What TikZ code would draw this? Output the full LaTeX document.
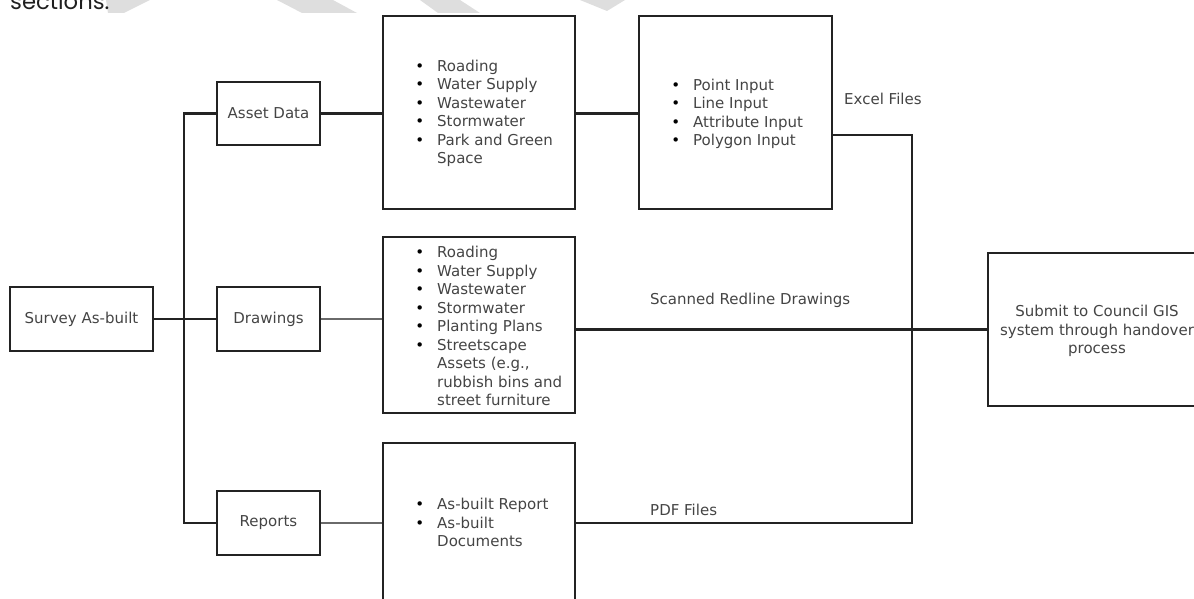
\documentclass[tikz,border=0pt]{standalone}
\usepackage{fontspec}
\setmainfont{DejaVu Sans}
\newfontfamily\headfont{Poppins}
\definecolor{ln}{HTML}{232323}
\definecolor{tx}{HTML}{444444}
\definecolor{wm}{HTML}{DEDEDE}
\definecolor{thinln}{HTML}{6A6A6A}
\newcommand\bul{\llap{\textcolor{black}{\textbullet}\hspace{13pt}}}
\begin{document}
\begin{tikzpicture}[x=1pt,y=-1pt,
  box/.style={draw=ln, line width=2.3pt, inner sep=0pt, text=tx,
    font=\fontsize{15}{18.5}\selectfont},
  txt/.style={text=tx, inner sep=0pt, font=\fontsize{15}{18.5}\selectfont, align=left},
  conn/.style={draw=ln, line width=2.2pt},
  connthin/.style={draw=thinln, line width=1.1pt}]
\useasboundingbox (0,0) rectangle (1194,599);
\clip (0,0) rectangle (1194,599);
% watermark fragments
\fill[wm] (106,0) -- (150,0) -- (124,13) -- (108,13) -- cycle;
\fill[wm] (277,0) -- (333,0) -- (357,13) -- (302,13) -- cycle;
\fill[wm] (420,0) -- (460,0) -- (480,13) -- (438,13) -- cycle;
\fill[wm] (580,0) -- (625,0) -- (607,11) -- cycle;
% cut page text
\node[anchor=base west, inner sep=0pt, text=black!88, font=\headfont\fontsize{22.7}{26}\selectfont] (sec) at (10,10) {sections.};
% boxes
\node[box, minimum width=143pt, minimum height=64pt] (survey) at (81.5,319) {Survey As-built};
\node[box, minimum width=103pt, minimum height=63pt] (asset) at (268.5,113.5) {Asset Data};
\node[box, minimum width=103pt, minimum height=64pt] (draw) at (268.5,319) {Drawings};
\node[box, minimum width=103pt, minimum height=64pt] (rep) at (268.5,523) {Reports};
\node[box, minimum width=192pt, minimum height=193pt] (b1) at (479,112.5) {};
\node[box, minimum width=193pt, minimum height=193pt] (b2) at (735.5,112.5) {};
\node[box, minimum width=192pt, minimum height=176pt] (b3) at (479,325) {};
\node[box, minimum width=192pt, minimum height=160pt] (b4) at (479,523) {};
\node[box, minimum width=218pt, minimum height=153pt] (fin) at (1097,329.5) {};
% box texts
\node[txt, anchor=west] (t1) at (437,114) {\bul Roading\strut\\ \bul Water Supply\strut\\ \bul Wastewater\strut\\ \bul Stormwater\strut\\ \bul Park and Green\strut\\ Space\strut};
\node[txt, anchor=west] (t2) at (693,114.3) {\bul Point Input\strut\\ \bul Line Input\strut\\ \bul Attribute Input\strut\\ \bul Polygon Input\strut};
\node[txt, anchor=west] (t3) at (437,327.8) {\bul Roading\strut\\ \bul Water Supply\strut\\ \bul Wastewater\strut\\ \bul Stormwater\strut\\ \bul Planting Plans\strut\\ \bul Streetscape\strut\\ Assets (e.g.,\strut\\ rubbish bins and\strut\\ street furniture\strut};
\node[txt, anchor=west] (t4) at (437,524.3) {\bul As-built Report\strut\\ \bul As-built\strut\\ Documents\strut};
\node[txt, align=center] (tf) at (1097,331.3) {Submit to Council GIS\strut\\ system through handover\strut\\ process\strut};
% labels
\node[txt, anchor=west] (lex) at (844,100.8) {Excel Files\strut};
\node[txt, anchor=west] (lsc) at (650,300.8) {Scanned Redline Drawings\strut};
\node[txt, anchor=west] (lpdf) at (650,511.8) {PDF Files\strut};
% connectors
\coordinate (tr) at (184,319);
\coordinate (c1) at (912,135);
\coordinate (c2) at (912,523);
\draw[conn] (asset.west) -| (tr) |- (rep.west);
\draw[conn] (survey.east) -- (draw.west);
\draw[conn] (asset.east) -- (asset.east -| b1.west);
\draw[conn] (b1.east |- asset.east) -- (b1.east |- asset.east -| b2.west);
\draw[connthin] (draw.east) -- (draw.east -| b3.west);
\draw[connthin] (rep.east) -- (rep.east -| b4.west);
\draw[conn] (c1 -| b2.east) -- (c1) -- (c2) -- (b4.east);
\draw[conn] (b3.east |- fin.west) -- (fin.west);
\end{tikzpicture}
\end{document}
